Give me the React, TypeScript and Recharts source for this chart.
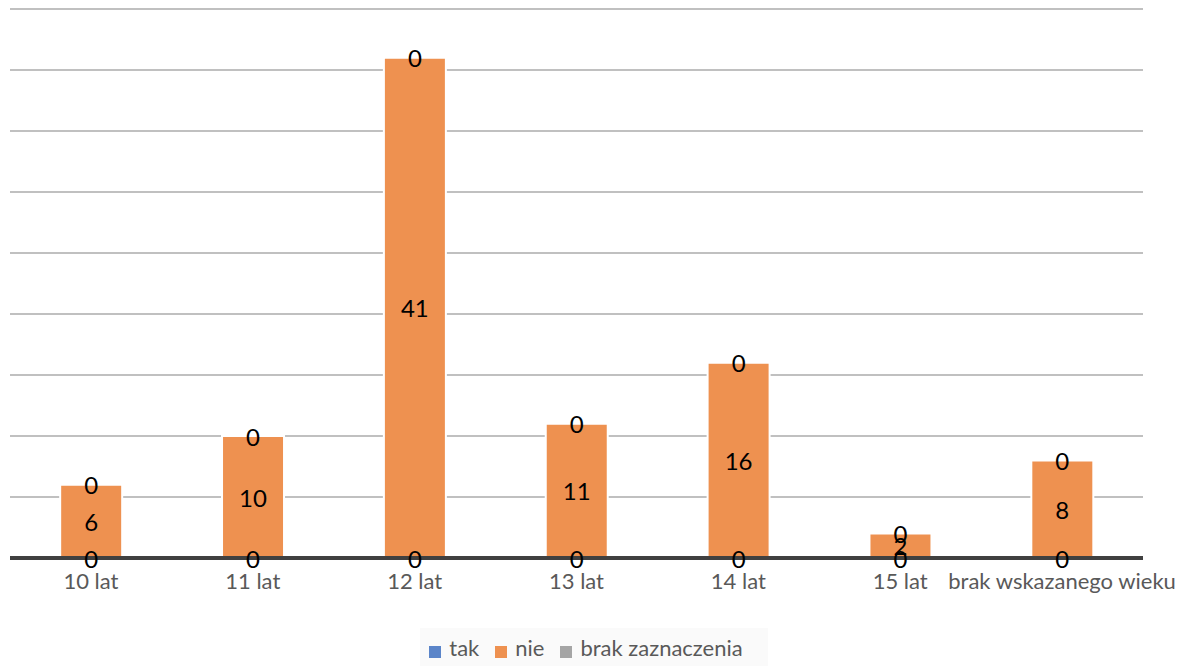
import { BarChart, Bar, XAxis, YAxis, CartesianGrid, Legend, LabelList } from 'recharts'

const categories = ['10 lat', '11 lat', '12 lat', '13 lat', '14 lat', '15 lat', 'brak wskazanego wieku']
const takValues = [0, 0, 0, 0, 0, 0, 0]
const nieValues = [6, 10, 41, 11, 16, 2, 8]
const brakValues = [0, 0, 0, 0, 0, 0, 0]
const yTicks = [0, 5, 10, 15, 20, 25, 30, 35, 40, 45]
const legendOrder = ['tak', 'nie', 'brak zaznaczenia']

const data = categories.map((name, i) => ({
  name,
  tak: takValues[i],
  nie: nieValues[i],
  brak: brakValues[i]
}))

const FONT = 'Lato, "Open Sans", sans-serif'

// tak / brak are zero-height, so their labels are drawn at the edges of the nie bar
const StackLabels = (props: any) => {
  const { x, y, width, height, index, value } = props
  const cx = x + width / 2
  const common = { textAnchor: 'middle' as const, dominantBaseline: 'central' as const, fontSize: 24, fill: '#000', fontFamily: FONT }
  return (
    <g>
      <text x={cx} y={y + height} {...common}>{takValues[index]}</text>
      <text x={cx} y={y + height / 2} {...common}>{value}</text>
      <text x={cx} y={y} {...common}>{brakValues[index]}</text>
    </g>
  )
}

export default function App() {
  return (
    <div style={{ width: 1172, height: 658, background: '#fff' }}>
      <BarChart
        width={1172}
        height={658}
        data={data}
        margin={{ top: 1, right: 37, left: 2, bottom: 40 }}
        barCategoryGap="31%"
      >
        <CartesianGrid vertical={false} stroke="#c0c0c0" strokeWidth={2} />
        <YAxis hide domain={[0, 45]} ticks={yTicks} />
        <XAxis
          dataKey="name"
          interval={0}
          axisLine={{ stroke: '#404040', strokeWidth: 4 }}
          tickLine={false}
          tick={{ fontSize: 22, fill: '#595959', fontFamily: FONT }}
          tickMargin={9}
        />
        <Legend
          verticalAlign="bottom"
          align="center"
          iconType="square"
          iconSize={12}
          itemSorter={(item: any) => legendOrder.indexOf(item.value)}
          wrapperStyle={{ bottom: 0, left: 412, width: 348, height: 38, paddingTop: 6, background: '#fafafa', fontFamily: FONT, boxSizing: 'border-box' }}
          formatter={(value: string) => (
            <span style={{ color: '#595959', fontSize: 22, marginLeft: 4, marginRight: 6 }}>{value}</span>
          )}
        />
        <Bar dataKey="tak" name="tak" stackId="a" fill="#5B85C9" stroke="#ffffff" strokeWidth={2} isAnimationActive={false} />
        <Bar dataKey="nie" name="nie" stackId="a" fill="#EE9150" stroke="#ffffff" strokeWidth={2} isAnimationActive={false}>
          <LabelList dataKey="nie" content={StackLabels} />
        </Bar>
        <Bar dataKey="brak" name="brak zaznaczenia" stackId="a" fill="#A5A5A5" stroke="#ffffff" strokeWidth={2} isAnimationActive={false} />
      </BarChart>
    </div>
  )
}
